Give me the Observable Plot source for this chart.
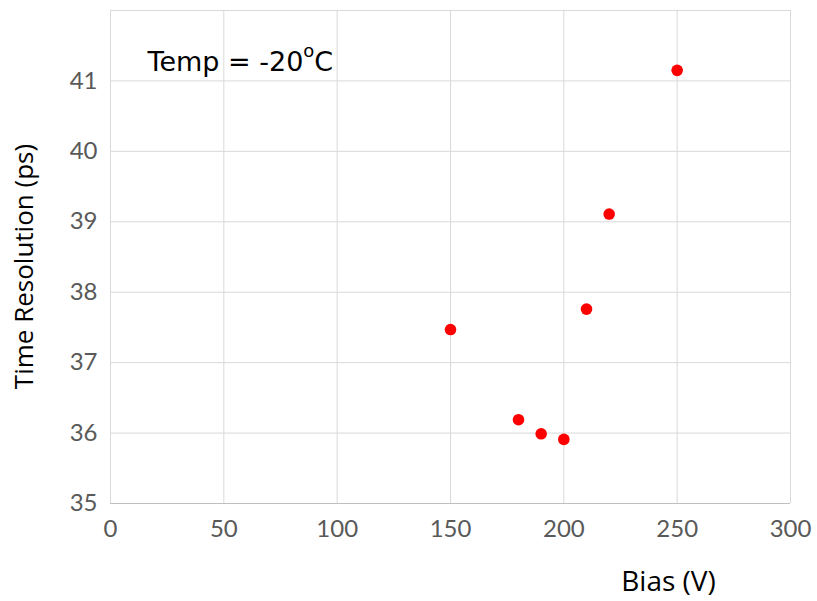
<!DOCTYPE html>
<html>
<head>
<meta charset="utf-8">
<script src="https://cdn.jsdelivr.net/npm/d3@7"></script>
<script src="https://cdn.jsdelivr.net/npm/@observablehq/plot@0.6"></script>
<style>
  html, body { margin: 0; padding: 0; background: #fff; }
  #chart svg { display: block; }
</style>
</head>
<body>
<div id="chart"></div>
<script>
// Time resolution measured against sensor bias voltage at -20 °C
const bias = [150, 180, 190, 200, 210, 220, 250];
const timeResolution = [37.47, 36.19, 35.99, 35.91, 37.76, 39.11, 41.15];
const xTicks = [0, 50, 100, 150, 200, 250, 300];
const yTicks = [35, 36, 37, 38, 39, 40, 41];

const data = bias.map((b, i) => ({bias: b, res: timeResolution[i]}));

const tickFont = "Lato, 'Liberation Sans', sans-serif";
const titleFont = "'Open Sans', 'DejaVu Sans', sans-serif";
const noteFont = "'DejaVu Sans', sans-serif";

const chart = Plot.plot({
  width: 817,
  height: 601,
  marginLeft: 110,
  marginRight: 27,
  marginTop: 10,
  marginBottom: 98,
  style: {background: "#fff"},
  x: {domain: [0, 300]},
  y: {domain: [35, 42]},
  marks: [
    Plot.gridX(xTicks, {stroke: "#d9d9d9", strokeOpacity: 1, strokeWidth: 1}),
    Plot.gridY([...yTicks, 42], {stroke: "#d9d9d9", strokeOpacity: 1, strokeWidth: 1}),
    Plot.ruleY([35], {stroke: "#bfbfbf", strokeWidth: 1.2}),
    Plot.dot(data, {x: "bias", y: "res", r: 5.8, fill: "#ff0000", stroke: "none"}),
    Plot.axisX(xTicks, {
      tickSize: 0, tickPadding: 16, label: null, tickFormat: "d",
      fontSize: 24, fill: "#595959", fontFamily: tickFont
    }),
    Plot.axisY(yTicks, {
      tickSize: 0, tickPadding: 13, label: null, tickFormat: "d",
      fontSize: 24, fill: "#595959", fontFamily: tickFont
    }),
    Plot.text(["Bias (V)"], {
      frameAnchor: "bottom", textAnchor: "middle", lineAnchor: "middle",
      dx: 218, dy: 79,
      fontSize: 28, fill: "#000", fontFamily: titleFont
    }),
    Plot.text(["Time Resolution (ps)"], {
      frameAnchor: "left", textAnchor: "middle", lineAnchor: "middle",
      rotate: -90, dx: -86, dy: 9.5,
      fontSize: 26, fill: "#000", fontFamily: titleFont
    }),
    Plot.text(["Temp = -20"], {
      frameAnchor: "top-left", textAnchor: "start", lineAnchor: "bottom",
      dx: 37, dy: 60, fontSize: 27, fill: "#000", fontFamily: noteFont,
      className: "temp-note"
    })
  ]
});

// Superscript "o" followed by "C" for the temperature note
d3.select(chart).selectAll(".temp-note text").each(function () {
  const t = d3.select(this);
  t.append("tspan").attr("font-size", 18).attr("dy", -14).text("o");
  t.append("tspan").attr("font-size", 27).attr("dy", 14).text("C");
});

document.getElementById("chart").append(chart);
</script>
</body>
</html>
